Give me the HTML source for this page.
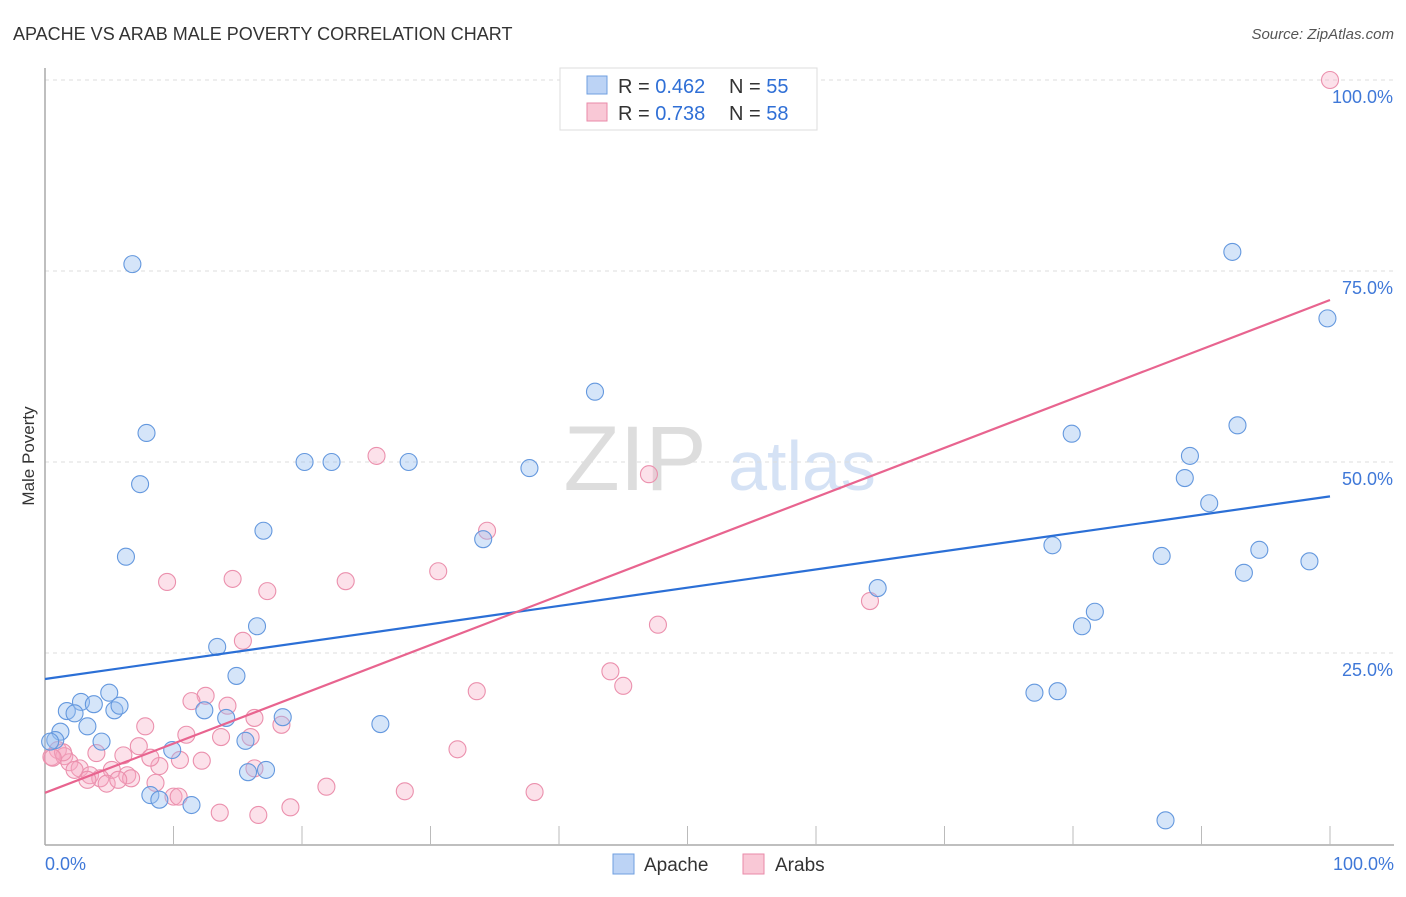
<!DOCTYPE html>
<html><head><meta charset="utf-8"><style>
body{margin:0;background:#fff;font-family:"Liberation Sans",sans-serif;}
svg text{font-family:"Liberation Sans",sans-serif;}
</style></head><body>
<svg id="chart" width="1406" height="892" xmlns="http://www.w3.org/2000/svg">
<text x="13" y="40" font-size="18" fill="#333">APACHE VS ARAB MALE POVERTY CORRELATION CHART</text>
<text x="1394" y="39" font-size="15" fill="#555" font-style="italic" text-anchor="end">Source: ZipAtlas.com</text>
<text x="34" y="456" font-size="17" fill="#333" text-anchor="middle" transform="rotate(-90 34 456)">Male Poverty</text>
<g><text x="635" y="490" font-size="92" fill="#ddd" font-family="Liberation Serif" text-anchor="middle">ZIP</text><text x="802" y="490" font-size="70" fill="#d5e2f5" text-anchor="middle">atlas</text></g>
<g id="grid"></g><g id="axes"></g><g id="pts"></g><g id="lines"></g>
<g>
<rect x="560" y="68" width="257" height="62" fill="#fff" stroke="#ddd"/>
<rect x="587" y="76" width="20" height="18" fill="#bcd3f5" stroke="#6f9fe0"/>
<text x="618" y="93" font-size="20" fill="#333">R = <tspan fill="#2f6fd6">0.462</tspan></text>
<text x="729" y="93" font-size="20" fill="#333">N = <tspan fill="#2f6fd6">55</tspan></text>
<rect x="587" y="103" width="20" height="18" fill="#f9c8d6" stroke="#e98aa8"/>
<text x="618" y="120" font-size="20" fill="#333">R = <tspan fill="#2f6fd6">0.738</tspan></text>
<text x="729" y="120" font-size="20" fill="#333">N = <tspan fill="#2f6fd6">58</tspan></text>
</g>
<g>
<rect x="613" y="854" width="21" height="20" fill="#bcd3f5" stroke="#6f9fe0"/>
<text x="644" y="871" font-size="19" fill="#333">Apache</text>
<rect x="743" y="854" width="21" height="20" fill="#f9c8d6" stroke="#e98aa8"/>
<text x="775" y="871" font-size="19" fill="#333">Arabs</text>
</g>
</svg>
<script>
const yTicks=[25,50,75,100];
const yTickLabels=["25.0%","50.0%","75.0%","100.0%"];
const xTickLabels=["0.0%","100.0%"];
const apacheX=[6.8,7.9,7.4,6.3,17.0,20.2,22.3,28.3,37.7,42.8,34.1,13.4,16.5,14.9,5.0,2.8,3.8,1.7,2.3,5.4,5.8,3.3,1.2,0.8,0.4,4.4,12.4,14.1,18.5,15.6,9.9,15.8,17.2,8.2,8.9,11.4,26.1,64.8,78.4,80.7,81.7,77.0,78.8,79.9,89.1,88.7,90.6,86.9,93.3,94.5,98.4,92.8,92.4,99.8,87.2];
const apacheY=[75.9,53.8,47.1,37.6,41.0,50.0,50.0,50.0,49.2,59.2,39.9,25.8,28.5,22.0,19.8,18.6,18.3,17.4,17.1,17.5,18.1,15.4,14.7,13.6,13.4,13.4,17.5,16.5,16.6,13.5,12.3,9.4,9.7,6.4,5.8,5.1,15.7,33.5,39.1,28.5,30.4,19.8,20.0,53.7,50.8,47.9,44.6,37.7,35.5,38.5,37.0,54.8,77.5,68.8,3.1];
const arabX=[100,25.8,47.0,34.4,30.6,23.4,17.3,14.6,9.5,15.4,47.7,64.2,44.0,45.0,33.6,12.5,11.4,14.2,7.8,16.3,18.4,11.0,13.7,16.0,7.3,6.1,4.0,1.0,0.5,1.5,1.9,2.7,2.3,5.2,6.4,3.5,4.3,4.8,6.7,3.3,10.5,12.2,8.9,8.6,10.0,10.4,16.3,32.1,21.9,28.0,38.1,19.1,16.6,13.6,5.7,8.2,1.4,0.6];
const arabY=[100,50.8,48.4,41.0,35.7,34.4,33.1,34.7,34.3,26.6,28.7,31.8,22.6,20.7,20.0,19.4,18.7,18.1,15.4,16.5,15.6,14.3,14.0,14.0,12.8,11.6,11.9,12.3,11.4,11.5,10.7,9.9,9.7,9.7,9.0,9.0,8.6,7.9,8.6,8.4,11.0,10.9,10.2,8.0,6.2,6.2,9.9,12.4,7.5,6.9,6.8,4.8,3.8,4.1,8.4,11.3,12.0,11.3];
const apacheLine=[21.6,45.5];
const arabLine=[6.7,71.2];
const NS="http://www.w3.org/2000/svg";
const X=v=>45+v*12.85, Y=v=>844-v*7.64;
function mk(t,a,p){const e=document.createElementNS(NS,t);for(const k in a)e.setAttribute(k,a[k]);document.getElementById(p).appendChild(e);return e;}
yTicks.forEach((t,i)=>{
 const g=mk('line',{x1:45,x2:1394,y1:Y(t),y2:Y(t),stroke:'#ddd','stroke-dasharray':'4 4'},'grid');
 
 
 const l=mk('text',{x:1393,y:Y(t)+23,'font-size':18,fill:'#3f78d8','text-anchor':'end'},'grid');
 l.textContent=yTickLabels[i];
 
 
});
let a=mk('line',{x1:45,x2:45,y1:68,y2:845,stroke:'#aaa','stroke-width':1.5},'axes');


a=mk('line',{x1:45,x2:1394,y1:845,y2:845,stroke:'#aaa','stroke-width':1.5},'axes');


for(let k=1;k<=10;k++){const t=mk('line',{x1:X(k*10),x2:X(k*10),y1:826,y2:845,stroke:'#bbb'},'axes');
 
 }
[[0,'start',45],[100,'end',1394]].forEach((d,i)=>{const l=mk('text',{x:d[2],y:870,'font-size':18,fill:'#3f78d8','text-anchor':d[1]},'axes');l.textContent=xTickLabels[i];
 
 });
function pts(xs,ys,fill,stroke,name){xs.forEach((x,i)=>{const c=mk('circle',{cx:X(x),cy:Y(ys[i]),r:8.5,fill:fill,stroke:stroke,'stroke-width':1.1},'pts');
 
 });}
pts(arabX,arabY,'rgba(245,170,195,0.35)','#eb90ad','arab-point');
pts(apacheX,apacheY,'rgba(150,190,240,0.4)','#6498de','apache-point');
let ln=mk('line',{x1:X(0),y1:Y(apacheLine[0]),x2:X(100),y2:Y(apacheLine[1]),stroke:'#2b6fd6','stroke-width':2.2},'lines');


ln=mk('line',{x1:X(0),y1:Y(arabLine[0]),x2:X(100),y2:Y(arabLine[1]),stroke:'#e8648f','stroke-width':2.2},'lines');


</script>
</body></html>
